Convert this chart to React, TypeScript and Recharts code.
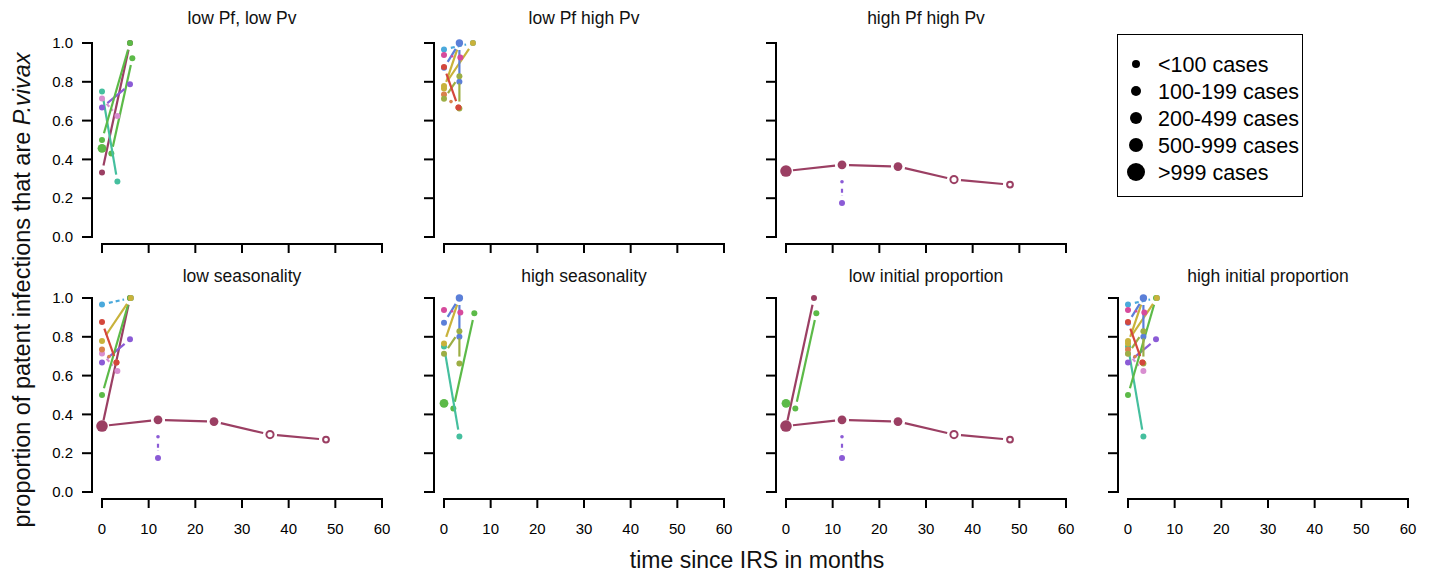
import React from 'react'
import { ScatterChart, Scatter, XAxis, YAxis } from 'recharts'

type Pt = { x: number; y: number; s: number; open?: boolean }

// size class: -1 tiny, 0 <100, 1 100-199, 2 200-499, 3 500-999, 4 >999
const maroonLong: Pt[] = [
  { x: 0, y: 0.34, s: 4 },
  { x: 12, y: 0.372, s: 2 },
  { x: 24, y: 0.363, s: 2 },
  { x: 36, y: 0.296, s: 2, open: true },
  { x: 48, y: 0.27, s: 1, open: true },
]
const purpleV: Pt[] = [
  { x: 12, y: 0.285, s: -1 },
  { x: 12, y: 0.175, s: 0 },
]
const maroonShort: Pt[] = [
  { x: 0, y: 0.333, s: 0 },
  { x: 6, y: 1.0, s: 0 },
]
const green1: Pt[] = [
  { x: 0, y: 0.457, s: 2 },
  { x: 2, y: 0.43, s: 0 },
  { x: 6.5, y: 0.922, s: 0 },
]
const green2: Pt[] = [
  { x: 0, y: 0.5, s: 0 },
  { x: 6, y: 1.0, s: 0 },
]
const teal: Pt[] = [
  { x: 0, y: 0.75, s: 0 },
  { x: 3.3, y: 0.286, s: 0 },
]
const purple: Pt[] = [
  { x: 0, y: 0.667, s: 0 },
  { x: 6, y: 0.787, s: 0 },
]
const pink: Pt[] = [
  { x: 0, y: 0.714, s: 0 },
  { x: 3.3, y: 0.624, s: 0 },
]
const orange: Pt[] = [
  { x: 0, y: 0.735, s: 0 },
  { x: 1.5, y: 0.698, s: -1 },
  { x: 3.1, y: 0.667, s: 0 },
]
const yellow2: Pt[] = [
  { x: 0, y: 0.765, s: 0 },
  { x: 3.3, y: 1.0, s: 0 },
]
const yellow: Pt[] = [
  { x: 0, y: 0.778, s: 0 },
  { x: 6.2, y: 1.0, s: 0 },
]
const cyan: Pt[] = [
  { x: 0, y: 0.967, s: 0 },
  { x: 6.2, y: 1.0, s: 0 },
]
const blue: Pt[] = [
  { x: 0, y: 0.872, s: 0 },
  { x: 3.3, y: 1.0, s: 1 },
  { x: 3.3, y: 0.8, s: 0 },
]
const olive: Pt[] = [
  { x: 0, y: 0.712, s: 0 },
  { x: 3.3, y: 0.828, s: 0 },
  { x: 3.3, y: 0.662, s: 0 },
]
const red: Pt[] = [
  { x: 0, y: 0.876, s: 0 },
  { x: 3.1, y: 0.667, s: 0 },
]
const magenta: Pt[] = [
  { x: 0, y: 0.938, s: 0 },
  { x: 3.5, y: 0.925, s: 0 },
]

// draw order: later series sit on top
const SERIES = [
  { key: 'maroonLong', data: maroonLong, color: '#9b3f63', dash: false },
  { key: 'purpleV', data: purpleV, color: '#8b5bd6', dash: true },
  { key: 'maroonShort', data: maroonShort, color: '#9b3f63', dash: false },
  { key: 'green1', data: green1, color: '#5cba48', dash: false },
  { key: 'teal', data: teal, color: '#45bf9e', dash: false },
  { key: 'purple', data: purple, color: '#8b5bd6', dash: false },
  { key: 'pink', data: pink, color: '#d88ed0', dash: true },
  { key: 'orange', data: orange, color: '#d9824c', dash: false },
  { key: 'cyan', data: cyan, color: '#4aa9dc', dash: true },
  { key: 'green2', data: green2, color: '#5cba48', dash: false },
  { key: 'yellow2', data: yellow2, color: '#c8b23b', dash: false },
  { key: 'yellow', data: yellow, color: '#c8b23b', dash: false },
  { key: 'blue', data: blue, color: '#5b7fd8', dash: false },
  { key: 'olive', data: olive, color: '#9cae44', dash: false },
  { key: 'red', data: red, color: '#d4473c', dash: false },
  { key: 'magenta', data: magenta, color: '#d64a9c', dash: false },
]

const PANELS = [
  { title: 'low Pf, low Pv', row: 0, col: 0, keys: ['maroonShort', 'green1', 'green2', 'teal', 'purple', 'pink'] },
  { title: 'low Pf high Pv', row: 0, col: 1, keys: ['orange', 'yellow2', 'yellow', 'cyan', 'blue', 'olive', 'red', 'magenta'] },
  { title: 'high Pf high Pv', row: 0, col: 2, keys: ['maroonLong', 'purpleV'] },
  { title: 'low seasonality', row: 1, col: 0, keys: ['maroonLong', 'purpleV', 'maroonShort', 'green2', 'purple', 'pink', 'orange', 'yellow', 'cyan', 'red'] },
  { title: 'high seasonality', row: 1, col: 1, keys: ['green1', 'teal', 'yellow2', 'blue', 'olive', 'magenta'] },
  { title: 'low initial proportion', row: 1, col: 2, keys: ['maroonLong', 'purpleV', 'maroonShort', 'green1'] },
  { title: 'high initial proportion', row: 1, col: 3, keys: ['green2', 'teal', 'purple', 'pink', 'orange', 'yellow2', 'yellow', 'cyan', 'blue', 'olive', 'red', 'magenta'] },
]

const X_TICKS = [0, 10, 20, 30, 40, 50, 60]
const Y_TICKS = [0, 0.2, 0.4, 0.6, 0.8, 1.0]
const LEGEND_LABELS = ['<100 cases', '100-199 cases', '200-499 cases', '500-999 cases', '>999 cases']

const FONT = '"Liberation Sans", Arial, Helvetica, sans-serif'
const PLOT_W = 280
const PLOT_H = 194
const Y_PAD = 7
const X_PAD = 10
const Y_W = 60
const X_H = 40
const TOP_M = 10
const COL_STEP = 342
const ROW_TOPS = [43, 297.5]
const RADII = [1.8, 3, 3.7, 4.4, 5.1, 5.8]
const LEGEND_R = [4, 5, 6, 7, 9]
const GAP = 7

const gapLine = (color: string, dashed: boolean) => (props: any) => {
  const pts = props.points || []
  const segs: React.ReactNode[] = []
  for (let i = 0; i < pts.length - 1; i++) {
    const a = pts[i]
    const b = pts[i + 1]
    const dx = b.x - a.x
    const dy = b.y - a.y
    const len = Math.hypot(dx, dy)
    if (len <= 2 * GAP + 1) continue
    const ux = dx / len
    const uy = dy / len
    segs.push(
      <line
        key={i}
        x1={a.x + ux * GAP}
        y1={a.y + uy * GAP}
        x2={b.x - ux * GAP}
        y2={b.y - uy * GAP}
        stroke={color}
        strokeWidth={2.2}
        strokeDasharray={dashed ? '4 3' : undefined}
      />
    )
  }
  return <g>{segs}</g>
}

const dotShape = (color: string) => (props: any) => {
  const { cx, cy, payload } = props
  const r = RADII[payload.s + 1]
  if (payload.open) {
    return <circle cx={cx} cy={cy} r={r - 0.8} fill="#fff" stroke={color} strokeWidth={2} />
  }
  return <circle cx={cx} cy={cy} r={r} fill={color} />
}

const YTick = (props: any) => {
  const { x, y, payload, showLabel } = props
  const v = payload.value
  const step = PLOT_H / 5
  return (
    <g>
      <line x1={x - 10} x2={x} y1={y} y2={y} stroke="#000" strokeWidth={2} />
      {v < 0.99 && <line x1={x} x2={x} y1={y + 1} y2={y - step - 1} stroke="#000" strokeWidth={2} />}
      {showLabel && (
        <text x={x - 19} y={y} dy="0.35em" textAnchor="end" fontSize={15} fontFamily={FONT} fill="#000">
          {v.toFixed(1)}
        </text>
      )}
    </g>
  )
}

const XTick = (props: any) => {
  const { x, y, payload, showLabel } = props
  const v = payload.value
  const step = PLOT_W / 6
  return (
    <g>
      <line x1={x} x2={x} y1={y} y2={y + 9} stroke="#000" strokeWidth={2} />
      {v < 60 && <line x1={x - 1} x2={x + step + 1} y1={y} y2={y} stroke="#000" strokeWidth={2} />}
      {showLabel && (
        <text x={x} y={y + 30} dy="0.35em" textAnchor="middle" fontSize={15} fontFamily={FONT} fill="#000">
          {v}
        </text>
      )}
    </g>
  )
}

function Panel({ panel }: { panel: (typeof PANELS)[number] }) {
  const left = 92 + COL_STEP * panel.col - Y_W
  const top = ROW_TOPS[panel.row] - TOP_M
  const height = TOP_M + PLOT_H + Y_PAD + X_H
  const width = Y_W + X_PAD + PLOT_W + 10
  const shown = SERIES.filter((s) => panel.keys.includes(s.key))
  const titleCx = 102 + COL_STEP * panel.col + PLOT_W / 2
  const titleCy = panel.row === 0 ? 18 : 276
  return (
    <>
      <div
        style={{
          position: 'absolute',
          left: titleCx - 150,
          top: titleCy - 11,
          width: 300,
          lineHeight: '22px',
          textAlign: 'center',
          fontSize: 17.5,
          fontFamily: FONT,
          color: '#111',
        }}
      >
        {panel.title}
      </div>
      <div style={{ position: 'absolute', left, top }}>
        <ScatterChart width={width} height={height} margin={{ top: TOP_M, right: 10, left: 0, bottom: 0 }}>
          <XAxis
            type="number"
            dataKey="x"
            domain={[0, 60]}
            ticks={X_TICKS}
            interval={0}
            padding={{ left: X_PAD, right: 0 }}
            height={X_H}
            axisLine={false}
            tickLine={false}
            tickSize={0}
            tickMargin={0}
            tick={<XTick showLabel={panel.row === 1} />}
          />
          <YAxis
            type="number"
            dataKey="y"
            domain={[0, 1]}
            ticks={Y_TICKS}
            interval={0}
            padding={{ top: 0, bottom: Y_PAD }}
            width={Y_W}
            axisLine={false}
            tickLine={false}
            tickSize={0}
            tickMargin={0}
            tick={<YTick showLabel={panel.col === 0} />}
          />
          {shown.map((s) => (
            <Scatter
              key={s.key}
              data={s.data}
              fill={s.color}
              line={gapLine(s.color, s.dash)}
              shape={dotShape(s.color)}
              isAnimationActive={false}
            />
          ))}
        </ScatterChart>
      </div>
    </>
  )
}

function SizeLegend() {
  return (
    <div
      style={{
        position: 'absolute',
        left: 1117,
        top: 34,
        width: 184,
        height: 161,
        border: '1.5px solid #000',
        background: '#fff',
      }}
    >
      <svg width={184} height={161}>
        {LEGEND_LABELS.map((label, i) => (
          <g key={label}>
            <circle cx={18} cy={29 + i * 27} r={LEGEND_R[i]} fill="#000" />
            <text x={40} y={29 + i * 27} dy="0.35em" fontSize={21.5} fontFamily={FONT} fill="#000">
              {label}
            </text>
          </g>
        ))}
      </svg>
    </div>
  )
}

export default function App() {
  return (
    <div style={{ position: 'absolute', left: 0, top: 0, width: 1433, height: 572, background: '#fff', overflow: 'hidden' }}>
      {PANELS.map((p) => (
        <Panel key={p.title} panel={p} />
      ))}
      <SizeLegend />
      <svg style={{ position: 'absolute', left: 0, top: 0 }} width={45} height={572}>
        <text
          x={0}
          y={0}
          transform="translate(30,290) rotate(-90)"
          textAnchor="middle"
          fontSize={23.5}
          fontFamily={FONT}
          fill="#111"
        >
          proportion of patent infections that are <tspan fontStyle="italic">P.vivax</tspan>
        </text>
      </svg>
      <div
        style={{
          position: 'absolute',
          left: 557,
          top: 546,
          width: 400,
          textAlign: 'center',
          fontSize: 23,
          lineHeight: '28px',
          fontFamily: FONT,
          color: '#111',
        }}
      >
        time since IRS in months
      </div>
    </div>
  )
}
